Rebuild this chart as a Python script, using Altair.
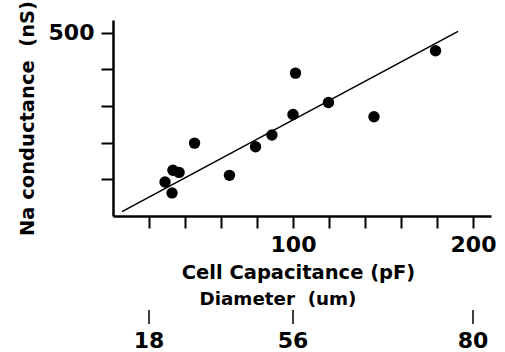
import altair as alt
import pandas as pd

# Scatter data: cell capacitance (pF) vs Na conductance (nS)
capacitance = [28.9, 32.8, 33.3, 36.7, 45.3, 64.7, 79.2, 88.3, 100.0, 101.4, 119.7, 145.0, 179.2]
conductance = [93, 63, 125, 119, 199, 111, 189, 221, 277, 390, 310, 271, 451]

# Drawn fit line end points
fit_cap = [5, 191.7]
fit_cond = [12, 504]

# Secondary (diameter) scale: labels and matching capacitance positions
diam_labels = ["18", "56", "80"]
diam_cap = [20, 100, 200]

x_ticks = [20, 40, 60, 80, 100, 120, 140, 160, 180, 200]
y_ticks = [100, 200, 300, 400, 500]

FONT = "DejaVu Sans"
NB = "\u00a0"

pts = pd.DataFrame({"cap": capacitance, "cond": conductance})
fit = pd.DataFrame({"cap": fit_cap, "cond": fit_cond})
diam = pd.DataFrame({"cap": diam_cap, "lab": diam_labels})

xscale = alt.Scale(domain=[0, 210], nice=False, zero=True)
yscale = alt.Scale(domain=[0, 535], nice=False, zero=True)

xaxis = alt.Axis(
    values=x_ticks,
    labelExpr="(datum.value == 100 || datum.value == 200) ? datum.label : ''",
    grid=False, tickSize=12, tickWidth=2, domainWidth=2.5,
    domainColor="black", tickColor="black",
    labelFont=FONT, labelFontSize=22, labelFontWeight="bold", labelColor="black",
    labelPadding=6,
    title="Cell Capacitance (pF)",
    titleFont=FONT, titleFontSize=19.5, titleFontWeight="bold", titleColor="black",
    titleX=185, titleY=56, titleBaseline="middle", titleAlign="center",
)
yaxis = alt.Axis(
    values=y_ticks,
    labelExpr="datum.value == 500 ? '500' : ''",
    grid=False, tickSize=12, tickWidth=2, domainWidth=2.5,
    domainColor="black", tickColor="black",
    labelFont=FONT, labelFontSize=22, labelFontWeight="bold", labelColor="black",
    labelPadding=7,
    title="Na conductance" + NB + NB + "(nS)",
    titleFont=FONT, titleFontSize=19.5, titleFontWeight="bold", titleColor="black",
    titleX=-86, titleY=98, titleBaseline="middle", titleAlign="center", titleAngle=270,
)

points = alt.Chart(pts).mark_circle(size=130, color="black", opacity=1).encode(
    x=alt.X("cap:Q", scale=xscale, axis=xaxis),
    y=alt.Y("cond:Q", scale=yscale, axis=yaxis),
)

line = alt.Chart(fit).mark_line(color="black", strokeWidth=1.6).encode(
    x=alt.X("cap:Q", scale=xscale),
    y=alt.Y("cond:Q", scale=yscale),
)

dticks = alt.Chart(diam).mark_rule(color="black", strokeWidth=1.5).encode(
    x=alt.X("cap:Q", scale=xscale),
    y=alt.value(290),
    y2=alt.value(304),
)

dlabels = alt.Chart(diam).mark_text(
    font=FONT, fontSize=22, fontWeight="bold", color="black", baseline="middle", align="center"
).encode(
    x=alt.X("cap:Q", scale=xscale),
    y=alt.value(321),
    text="lab:N",
)

dtitle = alt.Chart(pd.DataFrame({"t": ["Diameter" + NB + NB + "(um)"]})).mark_text(
    font=FONT, fontSize=18.3, fontWeight="bold", color="black", baseline="middle", align="center"
).encode(
    x=alt.value(165),
    y=alt.value(280),
    text="t:N",
)

chart = alt.layer(line, points, dticks, dlabels, dtitle).properties(
    width=378, height=196,
    autosize=alt.AutoSizeParams(type="none"),
    padding={"left": 113, "top": 20, "right": 14, "bottom": 136},
    background="white",
).configure_view(stroke=None)

chart.save("out.html", embed_options={"renderer": "svg", "actions": False})
